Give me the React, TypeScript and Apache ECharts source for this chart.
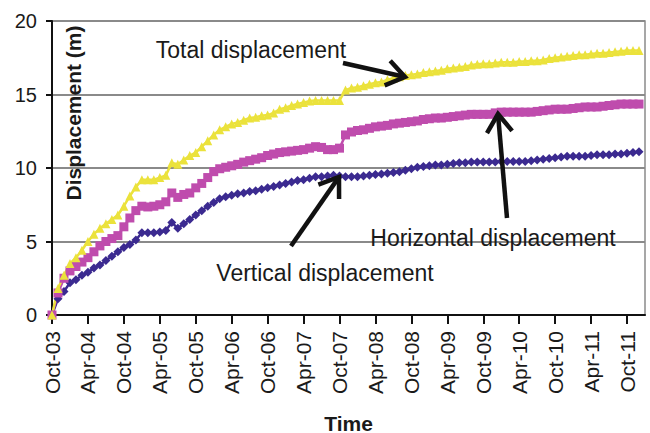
import React, { useEffect, useRef } from "react";
import * as echarts from "echarts";

const months: string[] = [
  "Oct-03", "Nov-03", "Dec-03",
  "Jan-04", "Feb-04", "Mar-04", "Apr-04", "May-04", "Jun-04", "Jul-04", "Aug-04", "Sep-04", "Oct-04", "Nov-04", "Dec-04",
  "Jan-05", "Feb-05", "Mar-05", "Apr-05", "May-05", "Jun-05", "Jul-05", "Aug-05", "Sep-05", "Oct-05", "Nov-05", "Dec-05",
  "Jan-06", "Feb-06", "Mar-06", "Apr-06", "May-06", "Jun-06", "Jul-06", "Aug-06", "Sep-06", "Oct-06", "Nov-06", "Dec-06",
  "Jan-07", "Feb-07", "Mar-07", "Apr-07", "May-07", "Jun-07", "Jul-07", "Aug-07", "Sep-07", "Oct-07", "Nov-07", "Dec-07",
  "Jan-08", "Feb-08", "Mar-08", "Apr-08", "May-08", "Jun-08", "Jul-08", "Aug-08", "Sep-08", "Oct-08", "Nov-08", "Dec-08",
  "Jan-09", "Feb-09", "Mar-09", "Apr-09", "May-09", "Jun-09", "Jul-09", "Aug-09", "Sep-09", "Oct-09", "Nov-09", "Dec-09",
  "Jan-10", "Feb-10", "Mar-10", "Apr-10", "May-10", "Jun-10", "Jul-10", "Aug-10", "Sep-10", "Oct-10", "Nov-10", "Dec-10",
  "Jan-11", "Feb-11", "Mar-11", "Apr-11", "May-11", "Jun-11", "Jul-11", "Aug-11", "Sep-11", "Oct-11", "Nov-11", "Dec-11",
  "Jan-12",
];

const totalDisp: number[] = [
  0, 1.8, 2.7, 3.5, 3.9, 4.4, 5.0, 5.5, 5.9, 6.2,
  6.5, 6.8, 7.4, 8.1, 8.7, 9.2, 9.2, 9.2, 9.35, 9.5,
  10.35, 10.25, 10.55, 10.85, 11.05, 11.45, 11.85, 12.25, 12.6, 12.8,
  13.0, 13.1, 13.25, 13.4, 13.45, 13.55, 13.6, 13.75, 14.0, 14.1,
  14.25, 14.35, 14.45, 14.55, 14.6, 14.6, 14.6, 14.6, 14.6, 15.3,
  15.45, 15.5, 15.6, 15.7, 15.8, 15.85, 16.0, 16.1, 16.2, 16.3,
  16.35, 16.4, 16.5, 16.55, 16.6, 16.65, 16.75, 16.8, 16.85, 16.9,
  17.0, 17.05, 17.1, 17.1, 17.15, 17.2, 17.2, 17.2, 17.25, 17.25,
  17.3, 17.3, 17.35, 17.45, 17.5, 17.55, 17.6, 17.65, 17.7, 17.7,
  17.75, 17.8, 17.8, 17.85, 17.9, 17.95, 18.0, 18.0, 18.0,
];

const horizontalDisp: number[] = [
  0, 1.5, 2.5, 3.0, 3.3, 3.6, 3.9, 4.3, 4.7, 5.0,
  5.2, 5.4, 6.0, 6.6, 7.1, 7.4, 7.35, 7.4, 7.5, 7.7,
  8.3, 8.0, 8.2, 8.3, 8.65, 8.95, 9.35, 9.75, 9.95, 10.05,
  10.15, 10.25, 10.4, 10.5, 10.6, 10.7, 10.85, 10.95, 11.05, 11.1,
  11.15, 11.2, 11.25, 11.35, 11.45, 11.4, 11.25, 11.25, 11.35, 12.25,
  12.45, 12.55, 12.6, 12.7, 12.8, 12.85, 12.9, 13.0, 13.05, 13.1,
  13.15, 13.2, 13.3, 13.35, 13.4, 13.4, 13.45, 13.5, 13.55, 13.6,
  13.65, 13.65, 13.65, 13.65, 13.75, 13.8, 13.8, 13.8, 13.8, 13.8,
  13.8, 13.85, 13.9, 13.95, 14.0, 14.0, 14.0, 14.05, 14.1, 14.15,
  14.15, 14.15, 14.2, 14.25, 14.3, 14.35, 14.35, 14.35, 14.35,
];

const verticalDisp: number[] = [
  0, 1.1, 1.6, 2.2, 2.4, 2.7, 2.9, 3.2, 3.4, 3.7,
  4.0, 4.3, 4.6, 4.8, 5.1, 5.6, 5.6, 5.6, 5.65, 5.75,
  6.3, 5.9, 6.2, 6.5, 6.8, 7.1, 7.4, 7.65, 7.9, 8.05,
  8.15, 8.25, 8.3, 8.4, 8.45, 8.55, 8.65, 8.75, 8.85, 8.95,
  9.05, 9.15, 9.2, 9.3, 9.4, 9.4, 9.45, 9.5, 9.45, 9.4,
  9.4, 9.4, 9.45, 9.5, 9.55, 9.6, 9.65, 9.7, 9.75, 9.85,
  9.95, 10.05, 10.1, 10.15, 10.2, 10.2, 10.25, 10.3, 10.35, 10.35,
  10.4, 10.4, 10.4, 10.4, 10.4, 10.45, 10.45, 10.45, 10.45, 10.45,
  10.5, 10.55, 10.6, 10.65, 10.7, 10.75, 10.8, 10.8, 10.8, 10.8,
  10.85, 10.9, 10.9, 10.9, 10.95, 10.95, 11.0, 11.05, 11.1,
];

const FONT = "'Liberation Sans', Arial, sans-serif";

function arrow(tail: [number, number], tip: [number, number]) {
  const dx = tip[0] - tail[0];
  const dy = tip[1] - tail[1];
  const len = Math.sqrt(dx * dx + dy * dy);
  const ux = dx / len;
  const uy = dy / len;
  const headLen = 22;
  const ang = (35 * Math.PI) / 180;
  const bx = -ux;
  const by = -uy;
  const a1: [number, number] = [
    tip[0] + headLen * (bx * Math.cos(ang) - by * Math.sin(ang)),
    tip[1] + headLen * (bx * Math.sin(ang) + by * Math.cos(ang)),
  ];
  const a2: [number, number] = [
    tip[0] + headLen * (bx * Math.cos(-ang) - by * Math.sin(-ang)),
    tip[1] + headLen * (bx * Math.sin(-ang) + by * Math.cos(-ang)),
  ];
  return [
    {
      type: "line",
      shape: { x1: tail[0], y1: tail[1], x2: tip[0] - ux * 2, y2: tip[1] - uy * 2 },
      style: { stroke: "#111", lineWidth: 4.5, lineCap: "butt" },
      z: 100,
    },
    {
      type: "polyline",
      shape: { points: [a1, tip, a2] },
      style: { stroke: "#111", lineWidth: 4.5, fill: null, lineJoin: "miter" },
      z: 100,
    },
  ];
}

export default function App() {
  const ref = useRef<HTMLDivElement>(null);
  useEffect(() => {
    if (!ref.current) return;
    const chart = echarts.init(ref.current, undefined, { renderer: "svg" });
    const option: any = {
      animation: false,
      backgroundColor: "#ffffff",
      grid: {
        left: 52,
        right: 5,
        top: 21,
        bottom: 118,
        outerBoundsMode: "none",
        containLabel: false,
        show: true,
        borderColor: "#8a8a8a",
        borderWidth: 1.5,
        backgroundColor: "transparent",
      },
      xAxis: {
        type: "category",
        data: months,
        boundaryGap: false,
        name: "Time",
        nameLocation: "middle",
        nameGap: 99,
        nameTextStyle: {
          fontFamily: FONT,
          fontSize: 21,
          fontWeight: "bold",
          color: "#1a1a1a",
          lineHeight: 18,
        },
        axisLine: { show: true, lineStyle: { color: "#111", width: 2 } },
        axisTick: { show: true, interval: 5, length: 9, lineStyle: { color: "#111", width: 2 } },
        axisLabel: {
          interval: 5,
          rotate: 90,
          margin: 16,
          fontFamily: FONT,
          fontSize: 21,
          color: "#1a1a1a",
        },
        splitLine: { show: false },
      },
      yAxis: {
        type: "value",
        min: 0,
        max: 20,
        interval: 5,
        axisLine: { show: true, lineStyle: { color: "#111", width: 2 } },
        axisTick: { show: true, length: 6, lineStyle: { color: "#111", width: 2 } },
        axisLabel: { fontFamily: FONT, fontSize: 20, color: "#1a1a1a", margin: 15 },
        splitLine: { show: true, lineStyle: { color: "#8a8a8a", width: 2 } },
      },
      series: [
        {
          name: "Vertical displacement",
          type: "line",
          data: verticalDisp,
          symbol: "diamond",
          symbolSize: 9,
          showAllSymbol: true,
          lineStyle: { color: "#3b2a90", width: 2.5 },
          itemStyle: { color: "#3b2a90" },
        },
        {
          name: "Horizontal displacement",
          type: "line",
          data: horizontalDisp,
          symbol: "rect",
          symbolSize: 9,
          showAllSymbol: true,
          lineStyle: { color: "#bf4cad", width: 2.5 },
          itemStyle: { color: "#bf4cad" },
        },
        {
          name: "Total displacement",
          type: "line",
          data: totalDisp,
          symbol: "triangle",
          symbolSize: 9,
          showAllSymbol: true,
          lineStyle: { color: "#ebe23c", width: 2.5 },
          itemStyle: { color: "#ebe23c" },
        },
      ],
      graphic: [
        {
          type: "text",
          x: 73,
          y: 113,
          rotation: Math.PI / 2,
          style: {
            text: "Displacement (m)",
            font: `bold 21px ${FONT}`,
            fill: "#1a1a1a",
            textAlign: "center",
            textVerticalAlign: "middle",
          },
          z: 100,
        },
        {
          type: "text",
          x: 251,
          y: 50,
          style: {
            text: "Total displacement",
            font: `23px ${FONT}`,
            fill: "#1a1a1a",
            textAlign: "center",
            textVerticalAlign: "middle",
          },
          z: 100,
        },
        {
          type: "text",
          x: 493,
          y: 238,
          style: {
            text: "Horizontal displacement",
            font: `23px ${FONT}`,
            fill: "#1a1a1a",
            textAlign: "center",
            textVerticalAlign: "middle",
          },
          z: 100,
        },
        {
          type: "text",
          x: 325,
          y: 273,
          style: {
            text: "Vertical displacement",
            font: `23px ${FONT}`,
            fill: "#1a1a1a",
            textAlign: "center",
            textVerticalAlign: "middle",
          },
          z: 100,
        },
        ...arrow([343, 63], [405, 77]),
        ...arrow([507, 218], [498, 114]),
        ...arrow([291, 246], [339, 177]),
      ],
    };
    chart.setOption(option);
    return () => chart.dispose();
  }, []);
  return (
    <div
      ref={ref}
      style={{ position: "fixed", left: 0, top: 0, width: 650, height: 433, background: "#fff" }}
    />
  );
}
